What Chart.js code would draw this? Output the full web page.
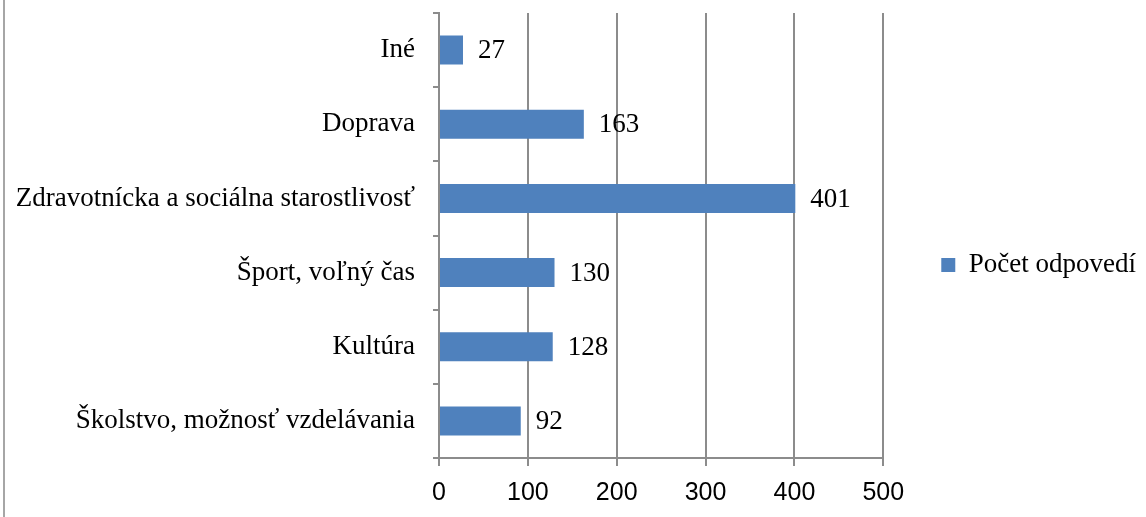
<!DOCTYPE html>
<html>
<head>
<meta charset="utf-8">
<style>
  html, body { margin: 0; padding: 0; background: #fff; }
  #wrap { position: relative; width: 1146px; height: 517px; }
</style>
<script src="https://cdn.jsdelivr.net/npm/chart.js@4/dist/chart.umd.min.js"></script>
</head>
<body>
<div id="wrap"><canvas id="c" width="1146" height="517"></canvas></div>
<script>
// Oblasti a počty odpovedí
const categories = [
  'Iné',
  'Doprava',
  'Zdravotnícka a sociálna starostlivosť',
  'Šport, voľný čas',
  'Kultúra',
  'Školstvo, možnosť vzdelávania'
];
const counts = [27, 163, 401, 130, 128, 92];
const seriesName = 'Počet odpovedí';
const xTicks = [0, 100, 200, 300, 400, 500];

const SERIF = '"Liberation Serif", "Times New Roman", serif';
const SANS = '"Liberation Sans", Arial, sans-serif';
const GRID = '#8c8c8c';

// value labels to the right of each bar
const valueLabels = {
  id: 'valueLabels',
  afterDatasetsDraw(chart) {
    const ctx = chart.ctx;
    const meta = chart.getDatasetMeta(0);
    ctx.save();
    ctx.font = '27px ' + SERIF;
    ctx.fillStyle = '#000';
    ctx.textAlign = 'left';
    ctx.textBaseline = 'middle';
    meta.data.forEach((bar, i) => {
      ctx.fillText(String(chart.data.datasets[0].data[i]), bar.x + 15, bar.y + 1);
    });
    ctx.restore();
  }
};

// thin frame line along the left edge
const leftFrame = {
  id: 'leftFrame',
  beforeDraw(chart) {
    const ctx = chart.ctx;
    ctx.save();
    ctx.fillStyle = '#a6a6a6';
    ctx.fillRect(3, 0, 2, chart.height);
    ctx.restore();
  }
};

new Chart(document.getElementById('c'), {
  type: 'bar',
  data: {
    labels: categories,
    datasets: [{
      label: seriesName,
      data: counts,
      backgroundColor: '#4f81bd',
      borderWidth: 0,
      barPercentage: 0.8,
      categoryPercentage: 0.49
    }]
  },
  options: {
    indexAxis: 'y',
    responsive: false,
    animation: false,
    devicePixelRatio: 1,
    layout: { padding: { top: 13, right: 0, left: 0, bottom: 0 } },
    plugins: {
      legend: {
        position: 'right',
        labels: {
          font: { family: SERIF, size: 27 },
          color: '#000',
          boxWidth: 14,
          boxHeight: 14,
          padding: 58
        }
      },
      tooltip: { enabled: false }
    },
    scales: {
      x: {
        min: 0,
        max: 500,
        afterBuildTicks(scale) {
          scale.ticks = xTicks.map(v => ({ value: v }));
        },
        afterFit(scale) {
          scale.height = 59;
          scale.paddingLeft = 0;
          scale.paddingRight = 0;
        },
        grid: {
          color: GRID,
          lineWidth: 2,
          tickLength: 8,
          drawTicks: true
        },
        border: { color: GRID, width: 2 },
        ticks: {
          font: { family: SANS, size: 25 },
          color: '#000',
          padding: 12,
          maxRotation: 0
        }
      },
      y: {
        afterFit(scale) {
          scale.width = 439;
          scale.paddingTop = 0;
          scale.paddingBottom = 0;
        },
        grid: {
          offset: true,
          drawOnChartArea: false,
          color: GRID,
          lineWidth: 2,
          tickLength: 6
        },
        border: { color: GRID, width: 2 },
        ticks: {
          font: { family: SERIF, size: 27 },
          color: '#000',
          padding: 18
        }
      }
    }
  },
  plugins: [valueLabels, leftFrame]
});
</script>
</body>
</html>
